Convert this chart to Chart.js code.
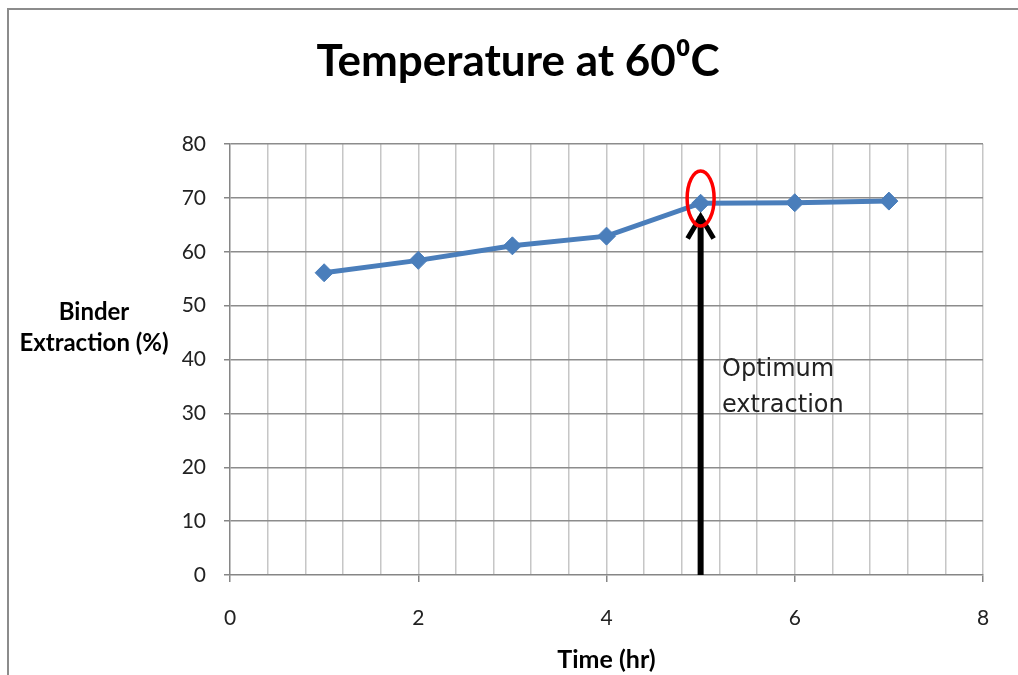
<!DOCTYPE html>
<html>
<head>
<meta charset="utf-8">
<script src="https://cdn.jsdelivr.net/npm/chart.js@4"></script>
<style>
  html, body { margin: 0; padding: 0; background: #fff; }
  #wrap { width: 1018px; height: 675px; position: relative; }
</style>
</head>
<body>
<div id="wrap"><canvas id="chart" width="1018" height="675"></canvas></div>
<script>
// Datos del gráfico
const timeHr = [1, 2, 3, 4, 5, 6, 7];
const binderExtraction = [56.1, 58.4, 61.1, 62.9, 69.0, 69.1, 69.4];
const xTickLabels = [0, 2, 4, 6, 8];
const yTickLabels = [0, 10, 20, 30, 40, 50, 60, 70, 80];

// Punto óptimo y anotación
const optimumTime = 5;
const optimumValue = 69.9;
const arrowTipValue = 66.9;
const chartTitle = "Temperature at 60⁰C";
const yTitleLines = ["Binder", "Extraction (%)"];
const noteLines = ["Optimum", "extraction"];

const FONT = "Lato, 'Open Sans', sans-serif";

// Plugin: marco, títulos, flecha y elipse
const extrasPlugin = {
  id: "extras",
  afterDraw(chart) {
    const ctx = chart.ctx;
    const xs = chart.scales.x;
    const ys = chart.scales.y;
    ctx.save();

    // marco exterior
    ctx.strokeStyle = "#8c8c8c";
    ctx.lineWidth = 2;
    ctx.beginPath();
    ctx.moveTo(8, 675);
    ctx.lineTo(8, 9);
    ctx.lineTo(1018, 9);
    ctx.stroke();

    // título principal
    ctx.fillStyle = "#000";
    ctx.font = "bold 44px " + FONT;
    ctx.textAlign = "center";
    ctx.textBaseline = "middle";
    ctx.fillText(chartTitle, 518, 62);

    // título eje Y (horizontal)
    ctx.font = "bold 24px " + FONT;
    ctx.fillText(yTitleLines[0], 94, 312);
    ctx.fillText(yTitleLines[1], 94, 343);

    // flecha
    const ax = xs.getPixelForValue(optimumTime);
    const ay0 = ys.getPixelForValue(0);
    const ay1 = ys.getPixelForValue(arrowTipValue);
    ctx.strokeStyle = "#000";
    ctx.lineWidth = 6;
    ctx.beginPath();
    ctx.moveTo(ax, ay0);
    ctx.lineTo(ax, ay1 + 2);
    ctx.stroke();
    ctx.lineWidth = 5;
    ctx.lineJoin = "miter";
    ctx.beginPath();
    ctx.moveTo(ax - 13, ay1 + 24);
    ctx.lineTo(ax, ay1 + 2);
    ctx.lineTo(ax + 13, ay1 + 24);
    ctx.stroke();

    // elipse roja
    const ex = xs.getPixelForValue(optimumTime);
    const ey = ys.getPixelForValue(optimumValue);
    ctx.strokeStyle = "#ff0000";
    ctx.lineWidth = 3.5;
    ctx.beginPath();
    ctx.ellipse(ex, ey, 13.5, 27.5, 0, 0, Math.PI * 2);
    ctx.stroke();

    // texto
    ctx.fillStyle = "#222";
    ctx.font = "24px 'DejaVu Sans', sans-serif";
    ctx.textAlign = "left";
    ctx.fillText(noteLines[0], 722, 370);
    ctx.fillText(noteLines[1], 722, 406);

    ctx.restore();
  },
};

const isMajorX = (v) => Math.abs(v / 2 - Math.round(v / 2)) < 1e-6;

const chart = new Chart(document.getElementById("chart").getContext("2d"), {
  type: "scatter",
  data: {
    datasets: [
      {
        data: timeHr.map((t, i) => ({ x: t, y: binderExtraction[i] })),
        showLine: true,
        borderColor: "#4a7ebb",
        backgroundColor: "#4a7ebb",
        borderWidth: 5,
        pointStyle: "rectRot",
        pointRadius: 9,
        pointBorderWidth: 1,
        pointBorderColor: "#4a7ebb",
      },
    ],
  },
  options: {
    responsive: false,
    animation: false,
    events: [],
    layout: { padding: { left: 0, right: 35, top: 144, bottom: 0 } },
    plugins: {
      legend: { display: false },
      tooltip: { enabled: false },
      title: { display: false },
    },
    scales: {
      x: {
        type: "linear",
        min: 0,
        max: 8,
        afterFit: (s) => { s.height = 100; },
        afterBuildTicks: (s) => {
          const t = [];
          for (let i = 0; i <= 20; i++) t.push({ value: Math.round(i * 4) / 10 });
          s.ticks = t;
        },
        ticks: {
          autoSkip: false,
          maxRotation: 0,
          color: "#222",
          padding: 24,
          font: { family: FONT, size: 21 },
          callback: (v) => (isMajorX(v) && xTickLabels.includes(Math.round(v)) ? String(Math.round(v)) : ""),
        },
        grid: {
          color: (c) => (c.index === 0 ? "rgba(0,0,0,0)" : "#c6c6c6"),
          lineWidth: 1.5,
          tickLength: 7,
          tickColor: (c) => (c.tick && isMajorX(c.tick.value) ? "#868686" : "rgba(0,0,0,0)"),
        },
        border: { color: "#868686", width: 1.5 },
        title: {
          display: true,
          text: "Time (hr)",
          color: "#000",
          font: { family: FONT, size: 25, weight: "bold" },
          padding: { top: 0, bottom: 0 },
        },
      },
      y: {
        min: 0,
        max: 80,
        afterFit: (s) => { s.width = 230; },
        afterBuildTicks: (s) => { s.ticks = yTickLabels.map((v) => ({ value: v })); },
        ticks: {
          color: "#222",
          padding: 18,
          font: { family: FONT, size: 21 },
        },
        grid: {
          color: (c) => (c.index === 0 ? "rgba(0,0,0,0)" : "#8c8c8c"),
          lineWidth: 1.5,
          tickLength: 6,
          tickColor: "#868686",
        },
        border: { color: "#868686", width: 1.5 },
      },
    },
  },
  plugins: [extrasPlugin],
});
</script>
</body>
</html>
